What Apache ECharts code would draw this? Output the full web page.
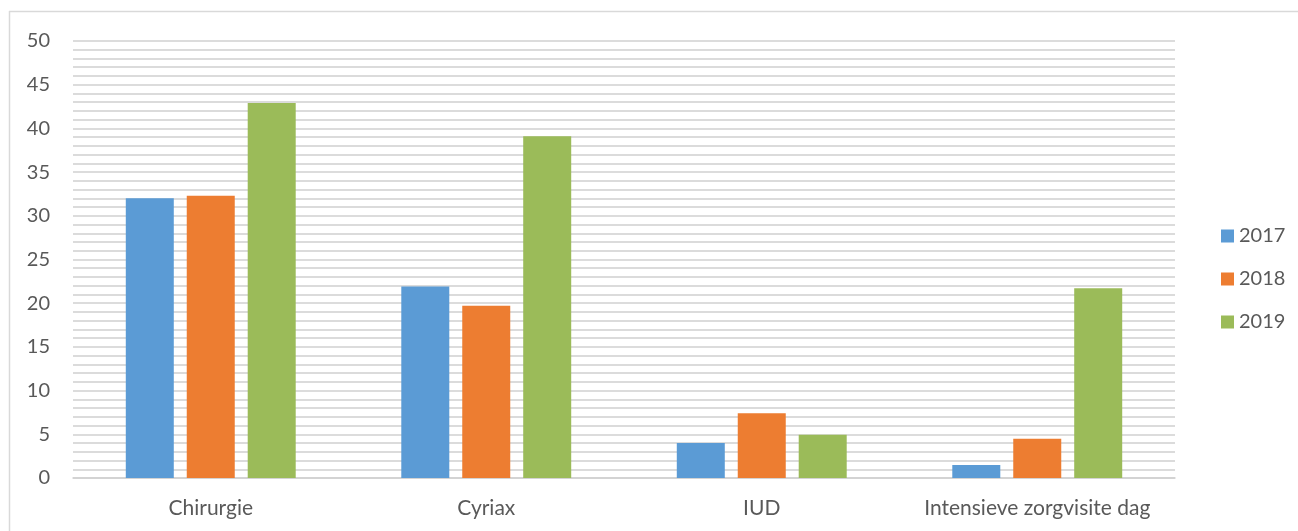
<!DOCTYPE html>
<html>
<head>
<meta charset="utf-8">
<script src="https://cdn.jsdelivr.net/npm/echarts@6/dist/echarts.min.js"></script>
<style>
  html, body { margin: 0; padding: 0; background: #fff; }
  #chart { width: 1298px; height: 531px; }
</style>
</head>
<body>
<div id="chart"></div>
<script>
// Procedures per year
const categories = ['Chirurgie', 'Cyriax', 'IUD', 'Intensieve zorgvisite dag'];
const years = ['2017', '2018', '2019'];
const values2017 = [32.0, 21.9, 4.0, 1.5];
const values2018 = [32.3, 19.7, 7.4, 4.5];
const values2019 = [42.9, 39.1, 4.95, 21.7];
const seriesValues = [values2017, values2018, values2019];
const colors = ['#5b9bd5', '#ed7d31', '#9bbb59'];

const font = 'Lato, "Open Sans", "Liberation Sans", sans-serif';
const textColor = '#595959';
const gridColor = '#d0d0d0';

const chart = echarts.init(document.getElementById('chart'), null, { renderer: 'canvas' });
chart.setOption({
  animation: false,
  textStyle: { fontFamily: font },
  graphic: [
    { type: 'line', shape: { x1: 9, y1: 11.5, x2: 1298, y2: 11.5 }, style: { stroke: '#d9d9d9', lineWidth: 1.5 } },
    { type: 'line', shape: { x1: 9.5, y1: 11, x2: 9.5, y2: 531 }, style: { stroke: '#d9d9d9', lineWidth: 1.5 } }
  ],
  grid: { left: 73, right: 123, top: 41, bottom: 53, containLabel: false },
  legend: {
    orient: 'vertical',
    left: 1216,
    top: 221,
    itemWidth: 13,
    itemHeight: 13,
    itemGap: 23,
    icon: 'rect',
    textStyle: { fontSize: 20, color: textColor, fontFamily: font, padding: [0, 0, 0, 0] },
    data: years
  },
  xAxis: {
    type: 'category',
    data: categories,
    axisLine: { show: true, lineStyle: { color: gridColor, width: 1.5 } },
    axisTick: { show: false },
    axisLabel: { interval: 0, hideOverlap: false, fontSize: 21, color: textColor, margin: 20, fontFamily: font }
  },
  yAxis: {
    type: 'value',
    min: 0,
    max: 50,
    interval: 5,
    axisLine: { show: false },
    axisTick: { show: false },
    axisLabel: { fontSize: 20, color: textColor, margin: 23, fontFamily: font },
    splitLine: { show: true, lineStyle: { color: gridColor, width: 1.5 } },
    minorTick: { show: false, splitNumber: 5 },
    minorSplitLine: { show: true, lineStyle: { color: gridColor, width: 1.5 } }
  },
  series: years.map((y, i) => ({
    name: y,
    type: 'bar',
    data: seriesValues[i],
    barWidth: 48,
    barGap: '27%',
    barCategoryGap: '38%',
    itemStyle: { color: colors[i] }
  }))
});
</script>
</body>
</html>
